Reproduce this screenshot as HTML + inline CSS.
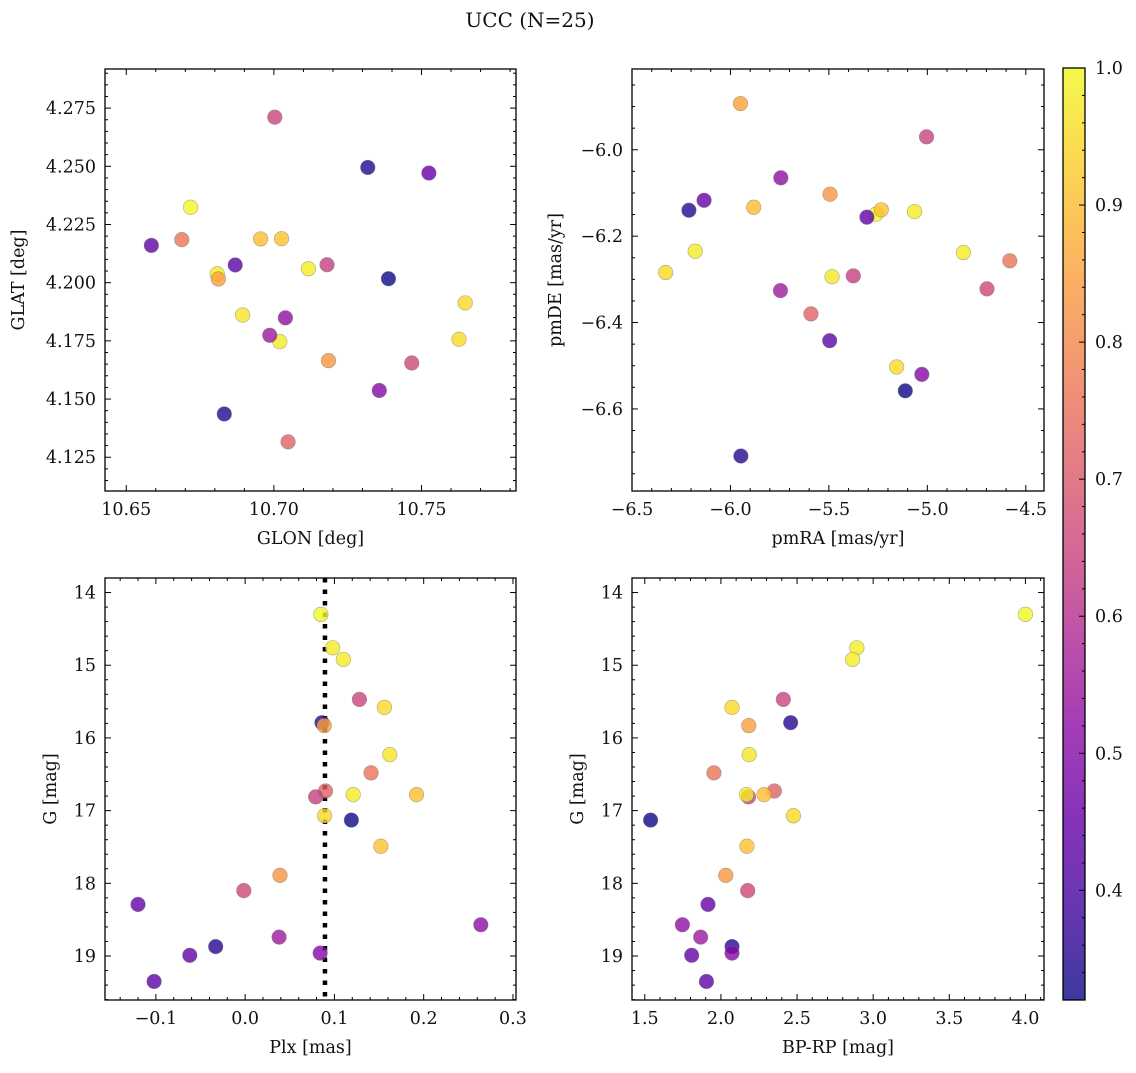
<!DOCTYPE html>
<html><head><meta charset="utf-8">
<style>
html,body{margin:0;padding:0;background:#fff;}
svg text{font-family:"DejaVu Serif","Liberation Serif",serif;fill:#111;}
</style></head>
<body>
<svg id="fig" width="1136" height="1068" viewBox="0 0 1136 1068" xmlns="http://www.w3.org/2000/svg">
<text x="530" y="27" font-size="20" text-anchor="middle">UCC (N=25)</text>
</svg>
<script>
const glon=[10.6718,10.6808,10.7117,10.7003,10.7648,10.7318,10.6812,10.6894,10.6688,10.7048,10.7180,10.7020,10.6955,10.7627,10.7388,10.7026,10.7185,10.7467,10.7525,10.7039,10.6986,10.6832,10.6585,10.7357,10.6869];
const glat=[4.2324,4.2038,4.2060,4.2711,4.1913,4.2495,4.2016,4.1861,4.2185,4.1316,4.2077,4.1747,4.2188,4.1757,4.2017,4.2189,4.1665,4.1655,4.2471,4.1849,4.1774,4.1436,4.2160,4.1537,4.2076];
const pmra=[-5.260,-5.065,-6.179,-5.004,-6.329,-6.211,-5.949,-5.484,-4.581,-5.591,-5.376,-4.817,-5.882,-5.156,-5.112,-5.234,-5.494,-4.697,-6.134,-5.744,-5.746,-5.947,-5.307,-5.028,-5.496];
const pmde=[-6.149,-6.143,-6.235,-5.970,-6.284,-6.140,-5.893,-6.294,-6.257,-6.380,-6.292,-6.238,-6.133,-6.503,-6.558,-6.139,-6.103,-6.322,-6.117,-6.065,-6.326,-6.709,-6.156,-6.520,-6.442];
const plx=[0.0848,0.098,0.110,0.128,0.156,0.086,0.0886,0.162,0.141,0.090,0.079,0.121,0.192,0.089,0.119,0.152,0.039,-0.0015,-0.120,0.264,0.038,-0.033,-0.062,0.084,-0.102];
const gmag=[14.30,14.76,14.92,15.47,15.58,15.79,15.83,16.23,16.48,16.73,16.81,16.78,16.78,17.07,17.13,17.49,17.89,18.10,18.29,18.57,18.74,18.87,18.99,18.96,19.35];
const bprp=[4.00,2.893,2.865,2.41,2.073,2.458,2.183,2.186,1.954,2.351,2.181,2.168,2.283,2.476,1.538,2.171,2.032,2.176,1.915,1.747,1.867,2.073,1.808,2.073,1.905];
const prob=[1.00,0.98,0.98,0.65,0.95,0.35,0.85,0.97,0.76,0.72,0.64,0.98,0.90,0.95,0.32,0.91,0.83,0.66,0.45,0.52,0.55,0.35,0.44,0.50,0.43];
const plxLine=0.0894;

const NS="http://www.w3.org/2000/svg";
const svg=document.getElementById('fig');
function mk(tag,attrs,parent){const e=document.createElementNS(NS,tag);for(const k in attrs)e.setAttribute(k,attrs[k]);(parent||svg).appendChild(e);return e;}
const stops=[[0,'#0d0887'],[0.1,'#41049d'],[0.2,'#6a00a8'],[0.3,'#8f0da4'],[0.4,'#b12a90'],[0.5,'#cc4778'],[0.6,'#e16462'],[0.7,'#f2844b'],[0.8,'#fca636'],[0.9,'#fcce25'],[1,'#f0f921']];
function hex(h){return [1,3,5].map(i=>parseInt(h.substr(i,2),16));}
function plasma(t){t=Math.max(0,Math.min(1,t));for(let i=0;i<stops.length-1;i++){if(t<=stops[i+1][0]){const f=(t-stops[i][0])/(stops[i+1][0]-stops[i][0]);const a=hex(stops[i][1]),b=hex(stops[i+1][1]);return 'rgb('+a.map((v,j)=>Math.round(v+(b[j]-v)*f)).join(',')+')';}}return stops[10][1];}
const vmin=Math.min(...prob),vmax=Math.max(...prob);
function cnorm(v){return (v-vmin)/(vmax-vmin);}
function fmt(v,d){let s=v.toFixed(d);if(parseFloat(s)===0)s=(0).toFixed(d);return s.replace('-','\u2212');}
const FS=17.5;
function panel(o){
  const g=mk('g',{});
  
  
  const sx=v=>o.x0+(v-o.xmin)/(o.xmax-o.xmin)*(o.x1-o.x0);
  const sy=o.yinv?(v=>o.y0+(v-o.ymin)/(o.ymax-o.ymin)*(o.y1-o.y0)):(v=>o.y1-(v-o.ymin)/(o.ymax-o.ymin)*(o.y1-o.y0));
  const tg=mk('g',{stroke:'#000','stroke-width':1},g);
  
  
  const eps=1e-9;
  for(let v=Math.ceil(o.xmin/o.xminor-eps)*o.xminor;v<=o.xmax+eps;v+=o.xminor){
    const X=sx(v);const maj=Math.abs(v/o.xmaj-Math.round(v/o.xmaj))<1e-6;const L=maj?6:3;
    mk('line',{x1:X,x2:X,y1:o.y1,y2:o.y1-L},tg);mk('line',{x1:X,x2:X,y1:o.y0,y2:o.y0+L},tg);
    if(maj){const t=mk('text',{x:X,y:o.y1+24,'font-size':FS,'text-anchor':'middle',stroke:'none'},g);t.textContent=fmt(v,o.xd);
      }
  }
  for(let v=Math.ceil(o.ymin/o.yminor-eps)*o.yminor;v<=o.ymax+eps;v+=o.yminor){
    const Y=sy(v);const maj=Math.abs(v/o.ymaj-Math.round(v/o.ymaj))<1e-6;const L=maj?6:3;
    mk('line',{x1:o.x0,x2:o.x0+L,y1:Y,y2:Y},tg);mk('line',{x1:o.x1,x2:o.x1-L,y1:Y,y2:Y},tg);
    if(maj){const t=mk('text',{x:o.x0-9,y:Y+6,'font-size':FS,'text-anchor':'end',stroke:'none'},g);t.textContent=fmt(v,o.yd);
      }
  }
  if(o.vline!==undefined){const l=mk('line',{x1:sx(o.vline),x2:sx(o.vline),y1:o.y0,y2:o.y1,stroke:'#000','stroke-width':4.5,'stroke-dasharray':'4.5 7'},g);
    }
  for(let i=0;i<o.xs.length;i++){
    const c=mk('circle',{cx:sx(o.xs[i]),cy:sy(o.ys[i]),r:7.3,fill:plasma(cnorm(prob[i])),'fill-opacity':0.8,stroke:'#777','stroke-opacity':0.6,'stroke-width':0.6},g);
    
    
  }
  const fr=mk('rect',{x:o.x0,y:o.y0,width:o.x1-o.x0,height:o.y1-o.y0,fill:'none',stroke:'#000','stroke-width':1.3},g);
  
  const xl=mk('text',{x:(o.x0+o.x1)/2,y:o.y1+53,'font-size':FS,'text-anchor':'middle'},g);xl.textContent=o.xlabel;
  
  const yx=o.ylx,yy=(o.y0+o.y1)/2;
  const yl=mk('text',{x:yx,y:yy,'font-size':FS,'text-anchor':'middle',transform:'rotate(-90 '+yx+' '+yy+')'},g);yl.textContent=o.ylabel;
  
}
panel({name:'glon-glat-panel',x0:105,x1:516,y0:69,y1:491,xmin:10.6428,xmax:10.782,ymin:4.1105,ymax:4.2918,xmaj:0.05,xminor:0.01,ymaj:0.025,yminor:0.005,xd:2,yd:3,xs:glon,ys:glat,xlabel:'GLON [deg]',ylabel:'GLAT [deg]',ylx:24});
panel({name:'proper-motion-panel',x0:632,x1:1044,y0:69,y1:491,xmin:-6.5,xmax:-4.4075,ymin:-6.790,ymax:-5.813,xmaj:0.5,xminor:0.1,ymaj:0.2,yminor:0.05,xd:1,yd:1,xs:pmra,ys:pmde,xlabel:'pmRA [mas/yr]',ylabel:'pmDE [mas/yr]',ylx:561});
panel({name:'plx-g-panel',x0:105,x1:516,y0:578,y1:1000,xmin:-0.157,xmax:0.3034,ymin:13.80,ymax:19.605,yinv:true,xmaj:0.1,xminor:0.02,ymaj:1,yminor:0.2,xd:1,yd:0,xs:plx,ys:gmag,vline:plxLine,xlabel:'Plx [mas]',ylabel:'G [mag]',ylx:56});
panel({name:'cmd-panel',x0:632,x1:1044,y0:578,y1:1000,xmin:1.416,xmax:4.122,ymin:13.80,ymax:19.605,yinv:true,xmaj:0.5,xminor:0.1,ymaj:1,yminor:0.2,xd:1,yd:0,xs:bprp,ys:gmag,xlabel:'BP-RP [mag]',ylabel:'G [mag]',ylx:583});

const cb=mk('g',{});


const defs=mk('defs',{},cb);
const lg=mk('linearGradient',{id:'cbg',x1:0,y1:1,x2:0,y2:0},defs);
for(let k=0;k<=20;k++){mk('stop',{offset:k/20,'stop-color':plasma(k/20),'stop-opacity':0.8},lg);}
const cx0=1063,cx1=1085,cy0=68,cy1=1000;
mk('rect',{x:cx0,y:cy0,width:cx1-cx0,height:cy1-cy0,fill:'url(#cbg)',stroke:'#000','stroke-width':1.3},cb);
const cbY=v=>cy1-(v-vmin)/(vmax-vmin)*(cy1-cy0);
const cbTicks=[0.4,0.5,0.6,0.7,0.8,0.9,1.0];
for(let k=Math.ceil(vmin*50);k<=Math.floor(vmax*50+1e-6);k++){const v=k/50;const Y=cbY(v);const maj=(k%5===0);mk('line',{x1:cx1,x2:cx1-(maj?6:3),y1:Y,y2:Y,stroke:'#000','stroke-width':1},cb);}
cbTicks.forEach(v=>{const t=mk('text',{x:cx1+10,y:cbY(v)+6,'font-size':FS},cb);t.textContent=v.toFixed(1);
  });
</script>
</body></html>
